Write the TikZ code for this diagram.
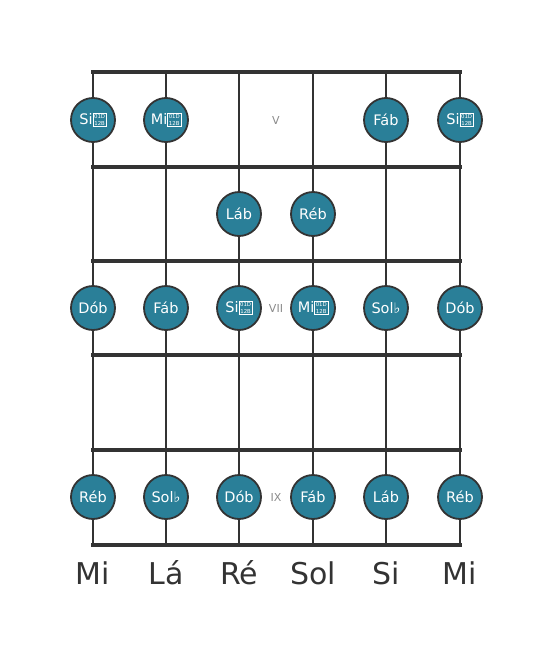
\documentclass[tikz,border=0pt]{standalone}
\usepackage{fontspec}
\setmainfont{DejaVu Sans}
\definecolor{teal1}{HTML}{2A7F98}
\definecolor{ink}{HTML}{333333}
\definecolor{fretlbl}{HTML}{8A8A8A}
\newcommand{\dblflat}{\raisebox{-0.8pt}{\fboxrule=0.5pt\fboxsep=0.9pt\fbox{\fontsize{5.4}{5.2}\selectfont\shortstack{01D\\12B}}}}
\begin{document}
\begin{tikzpicture}[x=1pt,y=-1pt,
  fretline/.style={draw=ink,line width=4pt},
  stringline/.style={draw=ink,line width=2.6pt},
  notecirc/.style={circle,fill=teal1,draw=ink,line width=1.8pt,minimum size=44pt,inner sep=0pt,text=white,font=\fontsize{14.5}{16}\selectfont},
  fretnum/.style={text=fretlbl,font=\fontsize{11}{12}\selectfont,inner sep=0pt},
  strname/.style={text=ink,font=\fontsize{30}{32}\selectfont,inner sep=0pt}]
\useasboundingbox (0,0) rectangle (553,656);
% strings
\foreach \x [count=\i] in {93,166,239,313,386,460}{
  \coordinate (st\i) at (\x,72);
  \coordinate (sb\i) at (\x,545);
  \draw[stringline] (st\i) -- (sb\i);
}
% frets
\foreach \y [count=\j] in {72,167,261,355,450,545}{
  \coordinate (fl\j) at (93,\y);
  \coordinate (fr\j) at (460,\y);
  \draw[fretline,line cap=rect] (fl\j) -- (fr\j);
}
% fret numbers
\node[fretnum] (fV) at (276,120) {V};
\node[fretnum] (fVII) at (276,308) {VII};
\node[fretnum] (fIX) at (276,497) {IX};
% notes row 1
\node[notecirc] (n11) at (93,120) {Si\dblflat};
\node[notecirc] (n12) at (166,120) {Mi\dblflat};
\node[notecirc] (n15) at (386,120) {Fáb};
\node[notecirc] (n16) at (460,120) {Si\dblflat};
% row 2
\node[notecirc] (n23) at (239,214) {Láb};
\node[notecirc] (n24) at (313,214) {Réb};
% row 3
\node[notecirc] (n31) at (93,308) {Dób};
\node[notecirc] (n32) at (166,308) {Fáb};
\node[notecirc] (n33) at (239,308) {Si\dblflat};
\node[notecirc] (n34) at (313,308) {Mi\dblflat};
\node[notecirc] (n35) at (386,308) {Sol♭};
\node[notecirc] (n36) at (460,308) {Dób};
% row 5
\node[notecirc] (n51) at (93,497) {Réb};
\node[notecirc] (n52) at (166,497) {Sol♭};
\node[notecirc] (n53) at (239,497) {Dób};
\node[notecirc] (n54) at (313,497) {Fáb};
\node[notecirc] (n55) at (386,497) {Láb};
\node[notecirc] (n56) at (460,497) {Réb};
% string names
\node[strname] (s1) at (93,573) {Mi};
\node[strname] (s2) at (166,573) {Lá};
\node[strname] (s3) at (239,573) {Ré};
\node[strname] (s4) at (313,573) {Sol};
\node[strname] (s5) at (386,573) {Si};
\node[strname] (s6) at (460,573) {Mi};
\end{tikzpicture}
\end{document}
